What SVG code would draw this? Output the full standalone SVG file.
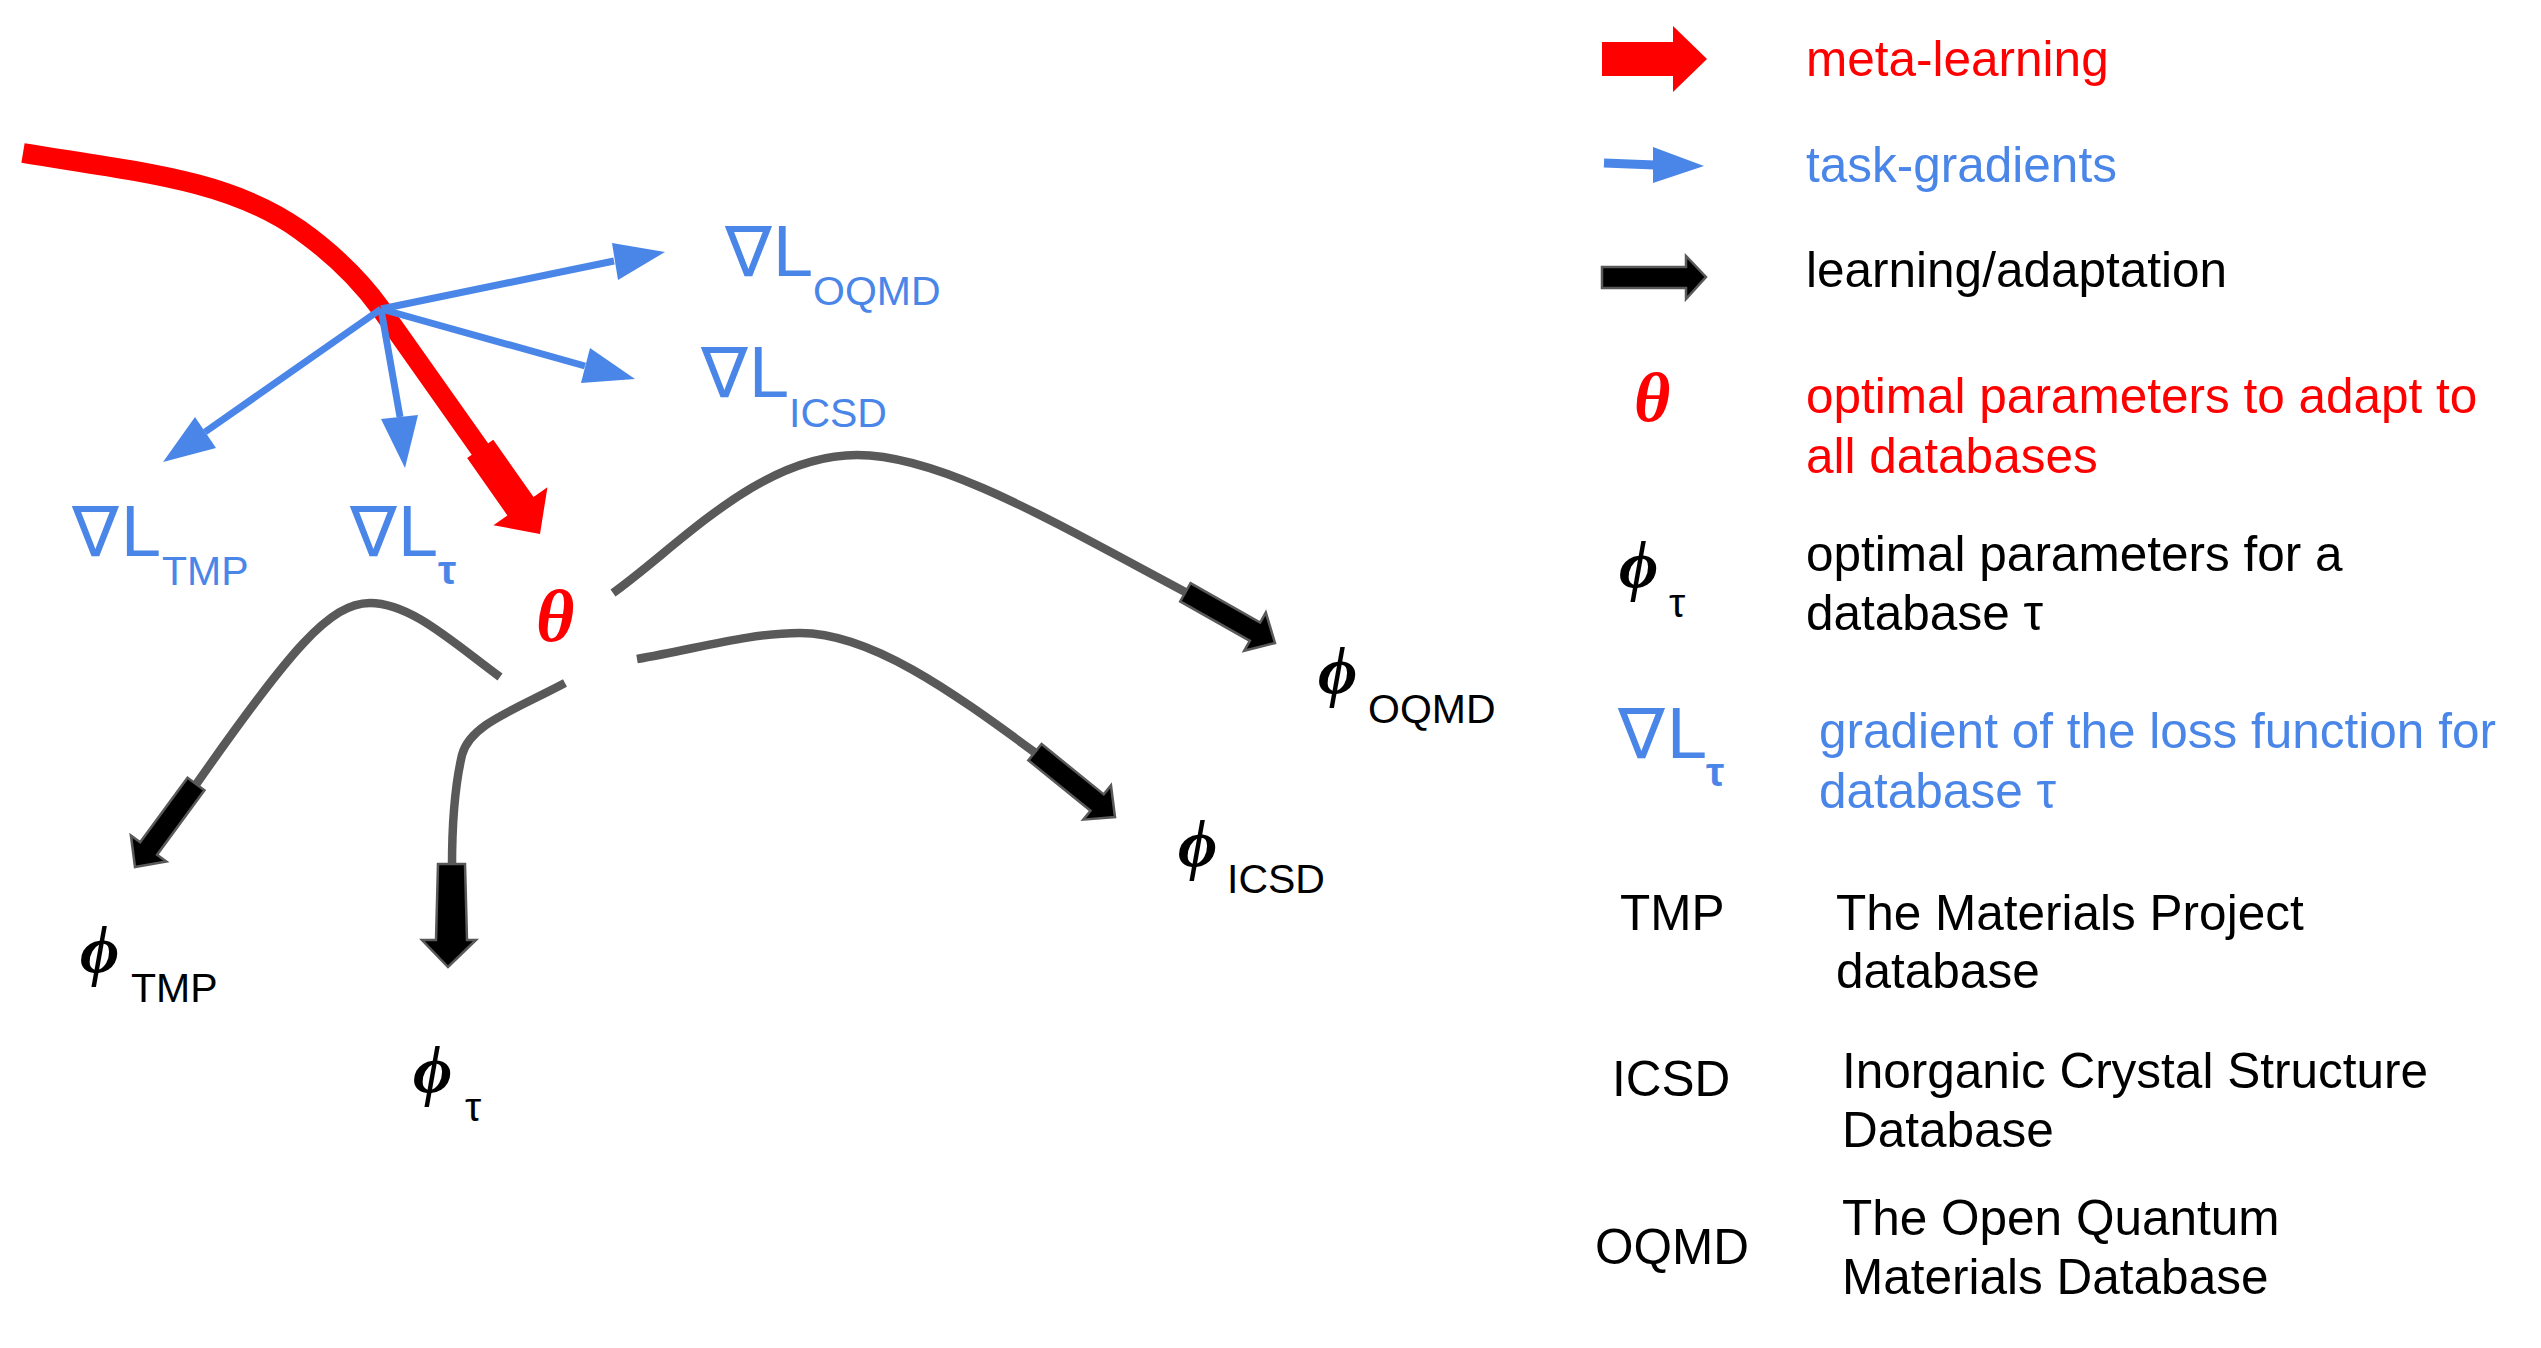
<svg xmlns="http://www.w3.org/2000/svg" width="2541" height="1348" viewBox="0 0 2541 1348">
<style>
.sans{font-family:"Liberation Sans",Arial,sans-serif}
.nab{font-family:"DejaVu Sans",sans-serif;font-size:70px}
.big{font-family:"Liberation Sans",Arial,sans-serif;font-size:72px}
.sub{font-family:"Liberation Sans",Arial,sans-serif;font-size:41px}
.ser{font-family:"Liberation Serif","Times New Roman",serif;font-weight:bold;font-style:italic}
.phi{font-family:"Liberation Serif","DejaVu Serif",serif;font-weight:bold;font-style:italic;font-size:68px}
.blue{fill:#4a86e8}
.red{fill:#ff0000}
.blk{fill:#000000}
.lg{font-family:"Liberation Sans",Arial,sans-serif;font-size:49.5px}
.gray{fill:none;stroke:#595959;stroke-width:8.5}
.bline{fill:none;stroke:#4a86e8;stroke-width:7}
.barrow{fill:#000000;stroke:#595959;stroke-width:2.5}
</style>
<defs>
<polygon id="blkArrow" points="-103,-10.5 -23,-10.5 -23,-22 0,0 -23,22 -23,10.5 -103,10.5"/>
<polygon id="redHead" points="-104,-16 -34,-16 -34,-33 0,0 -34,33 -34,16 -104,16"/>
</defs>
<rect width="2541" height="1348" fill="#ffffff"/>

<g id="connectors">
  <path d="M23,153 C140,172 230,180 300,230 C335,255 360,280 381,309 L482,452" fill="none" stroke="#ff0000" stroke-width="20"/>
  <use href="#redHead" fill="#ff0000" transform="translate(540,534) rotate(54.9)"/>
  <g id="grad-arrows">
    <line class="bline" x1="381" y1="309" x2="614" y2="261"/>
    <polygon class="blue" points="612,243 665,252 618,280"/>
    <line class="bline" x1="381" y1="309" x2="585" y2="366"/>
    <polygon class="blue" points="590,348 635,379 581,383"/>
    <line class="bline" x1="381" y1="309" x2="400" y2="417"/>
    <polygon class="blue" points="381,419 405,468 418,415"/>
    <line class="bline" x1="381" y1="309" x2="205" y2="432"/>
    <polygon class="blue" points="195,417 163,462 216,448"/>
  </g>
  <path class="gray" d="M613,593 C680,545 760,455 857,455 C940,455 1050,520 1187,593"/>
  <use href="#blkArrow" class="barrow" transform="translate(1275,643) rotate(29.5)"/>
  <path class="gray" d="M637,659 C700,648 750,633 800,633 C870,633 950,690 1037,754"/>
  <use href="#blkArrow" class="barrow" transform="translate(1115,817) rotate(39)"/>
  <path class="gray" d="M500,677 C450,640 410,603 370,603 C330,603 290,650 195,786"/>
  <use href="#blkArrow" class="barrow" transform="translate(135,867) rotate(126.3)"/>
  <path class="gray" d="M565,683 C510,712 470,725 462,755 C455,785 452,830 452,866"/>
  <polygon class="barrow" points="438,864 465,864 467,940 476,940 448,967 422,940 436,940"/>
</g>

<g id="theta">
  <text class="ser red" x="536" y="641" font-size="74">θ</text>
</g>
<g id="grad-oqmd" class="blue">
  <text class="nab" x="725" y="276">∇</text><text class="big" x="773" y="276">L</text><text class="sub" x="813" y="305">OQMD</text>
</g>
<g id="grad-icsd" class="blue">
  <text class="nab" x="701" y="397">∇</text><text class="big" x="749" y="397">L</text><text class="sub" x="789" y="427">ICSD</text>
</g>
<g id="grad-tmp" class="blue">
  <text class="nab" x="72" y="556">∇</text><text class="big" x="121" y="556">L</text><text class="sub" x="162" y="585">TMP</text>
</g>
<g id="grad-tau" class="blue">
  <text class="nab" x="350" y="556">∇</text><text class="big" x="398" y="556">L</text><text class="sub" x="438" y="584" font-weight="bold">τ</text>
</g>
<g id="phi-oqmd">
  <text class="phi" x="1318" y="694">ϕ</text><text class="sub" x="1368" y="723">OQMD</text>
</g>
<g id="phi-icsd">
  <text class="phi" x="1178" y="867">ϕ</text><text class="sub" x="1227" y="893">ICSD</text>
</g>
<g id="phi-tmp">
  <text class="phi" x="80" y="973">ϕ</text><text class="sub" x="131" y="1002">TMP</text>
</g>
<g id="phi-tau">
  <text class="phi" x="413" y="1093">ϕ</text><text class="sub" x="465" y="1121">τ</text>
</g>

<g id="legend">
  <g id="leg-meta">
    <polygon class="red" points="1602,42 1673,42 1673,26 1707,59 1673,92 1673,76 1602,76"/>
    <text class="lg red" x="1806" y="76">meta-learning</text>
  </g>
  <g id="leg-task">
    <line x1="1604" y1="163" x2="1655" y2="165" stroke="#4a86e8" stroke-width="9"/>
    <polygon class="blue" points="1653,147 1704,166 1653,183"/>
    <text class="lg blue" x="1806" y="182">task-gradients</text>
  </g>
  <g id="leg-learn">
    <polygon class="barrow" points="1602,267 1686,267 1686,256 1706,277 1686,299 1686,288 1602,288"/>
    <text class="lg blk" x="1806" y="287">learning/adaptation</text>
  </g>
  <g id="leg-theta">
    <text class="ser red" x="1634" y="421" font-size="70">θ</text>
    <text class="lg red" x="1806" y="413">optimal parameters to adapt to</text>
    <text class="lg red" x="1806" y="473">all databases</text>
  </g>
  <g id="leg-phi">
    <text class="phi" x="1619" y="588">ϕ</text><text class="sub" x="1669" y="617">τ</text>
    <text class="lg blk" x="1806" y="571">optimal parameters for a</text>
    <text class="lg blk" x="1806" y="630">database τ</text>
  </g>
  <g id="leg-grad" class="blue">
    <text class="nab" x="1618" y="758">∇</text><text class="big" x="1667" y="758">L</text><text class="sub" x="1706" y="786" font-weight="bold">τ</text>
    <text class="lg" x="1819" y="748">gradient of the loss function for</text>
    <text class="lg" x="1819" y="808">database τ</text>
  </g>
  <g id="leg-tmp">
    <text class="lg" x="1620" y="930">TMP</text>
    <text class="lg" x="1836" y="930">The Materials Project</text>
    <text class="lg" x="1836" y="988">database</text>
  </g>
  <g id="leg-icsd">
    <text class="lg" x="1612" y="1096">ICSD</text>
    <text class="lg" x="1842" y="1088">Inorganic Crystal Structure</text>
    <text class="lg" x="1842" y="1147">Database</text>
  </g>
  <g id="leg-oqmd">
    <text class="lg" x="1595" y="1264">OQMD</text>
    <text class="lg" x="1842" y="1235">The Open Quantum</text>
    <text class="lg" x="1842" y="1294">Materials Database</text>
  </g>
</g>
</svg>
